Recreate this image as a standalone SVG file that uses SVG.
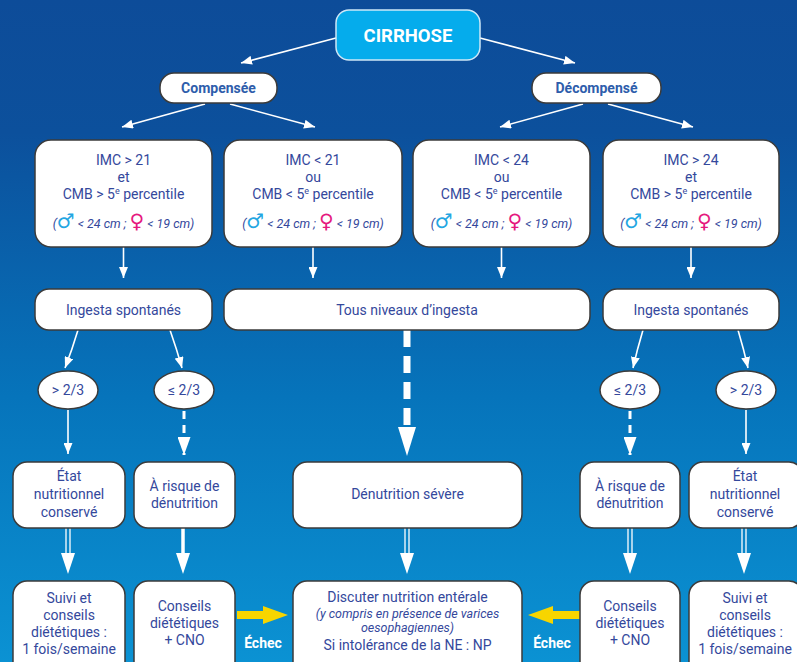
<svg xmlns="http://www.w3.org/2000/svg" width="797" height="662" viewBox="0 0 797 662">
<defs>
<linearGradient id="bg" x1="0" y1="0" x2="0" y2="1">
<stop offset="0" stop-color="#0d4c99"/>
<stop offset="0.2" stop-color="#0c509c"/>
<stop offset="0.6" stop-color="#0674bb"/>
<stop offset="1" stop-color="#0b92d3"/>
</linearGradient>
<marker id="ah" markerUnits="userSpaceOnUse" markerWidth="11" markerHeight="9" viewBox="0 0 11 9" refX="11" refY="4.5" orient="auto">
<path d="M0,0 L11,4.5 L0,9 z" fill="#fff"/>
</marker>
<marker id="ahd" markerUnits="userSpaceOnUse" markerWidth="18" markerHeight="13" viewBox="0 0 18 13" refX="18" refY="6.5" orient="auto">
<path d="M0,0 L18,6.5 L0,13 z" fill="#fff"/>
</marker>
<style>
.box{fill:#fff;stroke:#3b3b3b;stroke-width:1.5}
.t{font-family:Roboto,"Liberation Sans",sans-serif;font-size:14px;fill:#34489c;text-anchor:middle}
.b{font-weight:bold}
.it{font-style:italic;font-size:12.5px}
.sym{font-family:"DejaVu Sans",sans-serif;font-style:normal;font-size:20px;font-weight:bold}
.m{fill:#23a6e2}
.f{fill:#e5197e}
.ln{stroke:#fff;stroke-width:1.6;fill:none}
.dl{stroke:#fff;stroke-width:3;fill:none;stroke-dasharray:8 6}
.dbl{stroke:#fff;stroke-width:1.3;fill:none}
.hd{fill:#fff}
.yl{fill:#f7d500}
.ec{font-family:Roboto,"Liberation Sans",sans-serif;font-size:14px;font-weight:bold;fill:#fff;text-anchor:middle}
</style>
</defs>
<rect x="0" y="0" width="797" height="662" fill="url(#bg)"/>

<g id="connectors">
<line class="ln" x1="336" y1="38" x2="241" y2="63" marker-end="url(#ah)"/>
<line class="ln" x1="480" y1="38" x2="575" y2="63" marker-end="url(#ah)"/>
<line class="ln" x1="205" y1="104" x2="122" y2="127" marker-end="url(#ah)"/>
<line class="ln" x1="230" y1="104" x2="315" y2="127" marker-end="url(#ah)"/>
<line class="ln" x1="583" y1="104" x2="500" y2="127" marker-end="url(#ah)"/>
<line class="ln" x1="608" y1="104" x2="693" y2="127" marker-end="url(#ah)"/>
<line class="ln" x1="123.5" y1="247" x2="123.5" y2="278" marker-end="url(#ah)"/>
<line class="ln" x1="313" y1="247" x2="313" y2="278" marker-end="url(#ah)"/>
<line class="ln" x1="501.5" y1="247" x2="501.5" y2="278" marker-end="url(#ah)"/>
<line class="ln" x1="691" y1="247" x2="691" y2="278" marker-end="url(#ah)"/>
<path class="ln" d="M78,330 Q72,350 65,368" marker-end="url(#ah)"/>
<path class="ln" d="M170,330 Q177,350 182,368" marker-end="url(#ah)"/>
<path class="ln" d="M643,330 Q637,350 633,368" marker-end="url(#ah)"/>
<path class="ln" d="M738,330 Q744,350 748,368" marker-end="url(#ah)"/>
<line class="ln" x1="68" y1="410" x2="68" y2="454" marker-end="url(#ah)"/>
<line class="ln" x1="746" y1="410" x2="746" y2="454" marker-end="url(#ah)"/>
<line class="dl" x1="184" y1="411" x2="184" y2="455" marker-end="url(#ahd)"/>
<line class="dl" x1="630" y1="411" x2="630" y2="455" marker-end="url(#ahd)"/>
<line stroke="#fff" stroke-width="7" stroke-dasharray="17 9" x1="407" y1="330" x2="407" y2="428"/>
<path class="hd" d="M398,427 L416,427 L407,456 z"/>
<g id="dbl-arrows">
<line class="dbl" x1="66" y1="528" x2="66" y2="554"/><line class="dbl" x1="70" y1="528" x2="70" y2="554"/><path class="hd" d="M61,553 L75,553 L68,574 z"/>
<line stroke="#fff" stroke-width="3.5" x1="183" y1="528" x2="183" y2="554"/><path class="hd" d="M176,553 L190,553 L183,574 z"/>
<line class="dbl" x1="405" y1="528" x2="405" y2="554"/><line class="dbl" x1="409" y1="528" x2="409" y2="554"/><path class="hd" d="M400,553 L414,553 L407,574 z"/>
<line class="dbl" x1="628" y1="528" x2="628" y2="554"/><line class="dbl" x1="632" y1="528" x2="632" y2="554"/><path class="hd" d="M623,553 L637,553 L630,574 z"/>
<line class="dbl" x1="742" y1="528" x2="742" y2="554"/><line class="dbl" x1="746" y1="528" x2="746" y2="554"/><path class="hd" d="M737,553 L751,553 L744,574 z"/>
</g>
<path class="yl" d="M237,611 L263,611 L263,606 L288,615 L263,624 L263,619 L237,619 z"/>
<path class="yl" d="M580,611 L553,611 L553,606 L528,615 L553,624 L553,619 L580,619 z"/>
<text class="ec" x="263" y="648">Échec</text>
<text class="ec" x="552" y="648">Échec</text>
</g>

<g id="cirrhose">
<rect x="336" y="10" width="144" height="50" rx="13" fill="#05acec" stroke="#cde7f7" stroke-width="1.5"/>
<text class="t b" x="408" y="42" style="font-size:18.5px;fill:#fff">CIRRHOSE</text>
</g>
<g id="compensee">
<rect class="box" x="160" y="73" width="117" height="30" rx="14"/>
<text class="t b" x="218.5" y="93" style="fill:#2e5dab">Compensée</text>
</g>
<g id="decompense">
<rect class="box" x="532" y="73" width="129" height="30" rx="14"/>
<text class="t b" x="596.5" y="93" style="fill:#2e5dab">Décompensé</text>
</g>

<g id="crit1">
<rect class="box" x="35" y="140" width="177" height="107" rx="16"/>
<text class="t" x="123.5" y="165">IMC &gt; 21</text>
<text class="t" x="123.5" y="182">et</text>
<text class="t" x="123.5" y="199">CMB &gt; 5<tspan font-size="9" dy="-5">e</tspan><tspan dy="5"> percentile</tspan></text>
<text class="t it" x="123.5" y="228">(<tspan class="sym m">♂</tspan> &lt; 24 cm ; <tspan class="sym f">♀</tspan> &lt; 19 cm)</text>
</g>
<g id="crit2">
<rect class="box" x="224" y="140" width="178" height="107" rx="16"/>
<text class="t" x="313" y="165">IMC &lt; 21</text>
<text class="t" x="313" y="182">ou</text>
<text class="t" x="313" y="199">CMB &lt; 5<tspan font-size="9" dy="-5">e</tspan><tspan dy="5"> percentile</tspan></text>
<text class="t it" x="313" y="228">(<tspan class="sym m">♂</tspan> &lt; 24 cm ; <tspan class="sym f">♀</tspan> &lt; 19 cm)</text>
</g>
<g id="crit3">
<rect class="box" x="413" y="140" width="177" height="107" rx="16"/>
<text class="t" x="501.5" y="165">IMC &lt; 24</text>
<text class="t" x="501.5" y="182">ou</text>
<text class="t" x="501.5" y="199">CMB &lt; 5<tspan font-size="9" dy="-5">e</tspan><tspan dy="5"> percentile</tspan></text>
<text class="t it" x="501.5" y="228">(<tspan class="sym m">♂</tspan> &lt; 24 cm ; <tspan class="sym f">♀</tspan> &lt; 19 cm)</text>
</g>
<g id="crit4">
<rect class="box" x="603" y="140" width="176" height="107" rx="16"/>
<text class="t" x="691" y="165">IMC &gt; 24</text>
<text class="t" x="691" y="182">et</text>
<text class="t" x="691" y="199">CMB &gt; 5<tspan font-size="9" dy="-5">e</tspan><tspan dy="5"> percentile</tspan></text>
<text class="t it" x="691" y="228">(<tspan class="sym m">♂</tspan> &lt; 24 cm ; <tspan class="sym f">♀</tspan> &lt; 19 cm)</text>
</g>

<g id="ingesta1">
<rect class="box" x="35" y="289" width="177" height="41" rx="14"/>
<text class="t" x="123.5" y="315">Ingesta spontanés</text>
</g>
<g id="tous">
<rect class="box" x="224" y="289" width="366" height="41" rx="14"/>
<text class="t" x="407" y="315">Tous niveaux d’ingesta</text>
</g>
<g id="ingesta2">
<rect class="box" x="603" y="289" width="176" height="41" rx="14"/>
<text class="t" x="691" y="315">Ingesta spontanés</text>
</g>

<g id="ov1"><ellipse class="box" cx="68" cy="390" rx="30" ry="19"/><text class="t" x="68" y="395">&gt; 2/3</text></g>
<g id="ov2"><ellipse class="box" cx="184" cy="390" rx="30" ry="19"/><text class="t" x="184" y="395">≤ 2/3</text></g>
<g id="ov3"><ellipse class="box" cx="630" cy="390" rx="30" ry="19"/><text class="t" x="630" y="395">≤ 2/3</text></g>
<g id="ov4"><ellipse class="box" cx="746" cy="390" rx="30" ry="19"/><text class="t" x="746" y="395">&gt; 2/3</text></g>

<g id="etat1">
<rect class="box" x="13" y="462" width="112" height="66" rx="14"/>
<text class="t" x="69" y="481">État</text><text class="t" x="69" y="499">nutritionnel</text><text class="t" x="69" y="517">conservé</text>
</g>
<g id="risque1">
<rect class="box" x="134" y="462" width="101" height="66" rx="14"/>
<text class="t" x="184.5" y="491">À risque de</text><text class="t" x="184.5" y="508">dénutrition</text>
</g>
<g id="severe">
<rect class="box" x="293" y="462" width="229" height="66" rx="14"/>
<text class="t" x="407.5" y="499">Dénutrition sévère</text>
</g>
<g id="risque2">
<rect class="box" x="580" y="462" width="100" height="66" rx="14"/>
<text class="t" x="630" y="491">À risque de</text><text class="t" x="630" y="508">dénutrition</text>
</g>
<g id="etat2">
<rect class="box" x="689" y="462" width="114" height="66" rx="14"/>
<text class="t" x="745" y="481">État</text><text class="t" x="745" y="499">nutritionnel</text><text class="t" x="745" y="517">conservé</text>
</g>

<g id="suivi1">
<rect class="box" x="13" y="581" width="112" height="95" rx="14"/>
<text class="t" x="69" y="603">Suivi et</text><text class="t" x="69" y="620">conseils</text><text class="t" x="69" y="637">diététiques :</text><text class="t" x="69" y="654">1 fois/semaine</text>
</g>
<g id="conseils1">
<rect class="box" x="134" y="581" width="101" height="95" rx="14"/>
<text class="t" x="184.5" y="611">Conseils</text><text class="t" x="184.5" y="628">diététiques</text><text class="t" x="184.5" y="645">+ CNO</text>
</g>
<g id="discuter">
<rect class="box" x="293" y="581" width="229" height="95" rx="14"/>
<text class="t" x="407.5" y="602">Discuter nutrition entérale</text>
<text class="t it" x="407.5" y="618" style="font-size:12.5px">(y compris en présence de varices</text>
<text class="t it" x="407.5" y="632" style="font-size:12.5px">oesophagiennes)</text>
<text class="t" x="407.5" y="650">Si intolérance de la NE : NP</text>
</g>
<g id="conseils2">
<rect class="box" x="580" y="581" width="100" height="95" rx="14"/>
<text class="t" x="630" y="611">Conseils</text><text class="t" x="630" y="628">diététiques</text><text class="t" x="630" y="645">+ CNO</text>
</g>
<g id="suivi2">
<rect class="box" x="689" y="581" width="114" height="95" rx="14"/>
<text class="t" x="745" y="603">Suivi et</text><text class="t" x="745" y="620">conseils</text><text class="t" x="745" y="637">diététiques :</text><text class="t" x="745" y="654">1 fois/semaine</text>
</g>
</svg>
